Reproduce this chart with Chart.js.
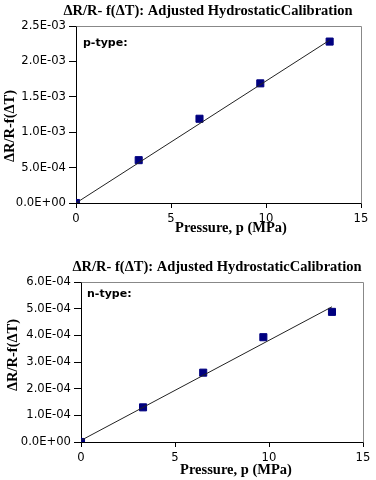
<!DOCTYPE html>
<html>
<head>
<meta charset="utf-8">
<script src="https://cdn.jsdelivr.net/npm/chart.js@4/dist/chart.umd.min.js"></script>
<style>
  html, body { margin: 0; padding: 0; background: #fff; }
  .box { position: absolute; left: 0; width: 376px; height: 240px; }
</style>
</head>
<body>
<div class="box" style="top:0"><canvas id="p-chart" width="376" height="240"></canvas></div>
<div class="box" style="top:240px"><canvas id="n-chart" width="376" height="240"></canvas></div>
<script>
// measured points: pressure (MPa) vs dR/R - f(dT)
const pressure = [0, 3.3, 6.5, 9.7, 13.35];
const pType = [0, 6.05e-4, 1.19e-3, 1.69e-3, 2.28e-3];
const nType = [0, 1.3e-4, 2.6e-4, 3.93e-4, 4.88e-4];

// trendline ends
const fitX = [0, 13.35];
const pFit = [0, 2.3e-3];
const nFit = [0.06e-4, 5.07e-4];

const xTicks = [0, 5, 10, 15];
const pYTicks = [0, 5e-4, 1e-3, 1.5e-3, 2e-3, 2.5e-3];
const nYTicks = [0, 1e-4, 2e-4, 3e-4, 4e-4, 5e-4, 6e-4];

const titleText = "ΔR/R- f(ΔT): Adjusted HydrostaticCalibration";
const xTitle = "Pressure, p (MPa)";
const yTitle = "ΔR/R-f(ΔT)";

const tickFont = { family: "DejaVu Sans", size: 11.6 };
const serif = "bold 14.5px 'Liberation Serif'";

function sci(v) {
    const [m, e] = v.toExponential(1).split("e");
    const n = parseInt(e, 10);
    return m + "E" + (n < 0 ? "-" : "+") + String(Math.abs(n)).padStart(2, "0");
}

function pts(xs, ys) {
    return xs.map((x, i) => ({ x: x, y: ys[i] }));
}

// frame + free text labels
const extras = {
    id: "extras",
    afterDraw(chart, args, opts) {
        const { ctx, chartArea: a } = chart;
        ctx.save();
        ctx.strokeStyle = "#888";
        ctx.lineWidth = 1;
        ctx.beginPath();
        ctx.moveTo(Math.round(a.left) + 0.5, Math.round(a.top) + 0.5);
        ctx.lineTo(Math.round(a.right) + 0.5, Math.round(a.top) + 0.5);
        ctx.lineTo(Math.round(a.right) + 0.5, Math.round(a.bottom) + 0.5);
        ctx.stroke();
        ctx.fillStyle = "#000";
        ctx.textBaseline = "middle";
        (opts.texts || []).forEach(t => {
            ctx.save();
            ctx.font = t.font;
            ctx.textAlign = t.align || "center";
            ctx.translate(t.x, t.y);
            if (t.rotate) ctx.rotate(t.rotate);
            ctx.fillText(t.text, 0, 0);
            ctx.restore();
        });
        ctx.restore();
    }
};

function makeChart(id, ys, fitY, yTicks, label, g) {
    return new Chart(document.getElementById(id).getContext("2d"), {
        type: "scatter",
        data: {
            datasets: [
                {
                    type: "line",
                    data: pts(fitX, fitY),
                    borderColor: "#222",
                    borderWidth: 1,
                    pointRadius: 0,
                    fill: false,
                },
                {
                    data: pts(pressure, ys),
                    pointStyle: "rect",
                    pointRadius: 5,
                    backgroundColor: "#000080",
                    borderColor: "#000080",
                    borderWidth: 1,
                },
            ],
        },
        options: {
            responsive: false,
            animation: false,
            events: [],
            layout: { padding: { left: 0, top: g.top, right: g.right, bottom: 0 } },
            scales: {
                x: {
                    type: "linear",
                    min: 0,
                    max: 15,
                    afterBuildTicks: s => { s.ticks = xTicks.map(v => ({ value: v })); },
                    afterFit: s => { s.height = g.xh; },
                    ticks: { color: "#000", font: tickFont, padding: 4, maxRotation: 0 },
                    grid: { drawOnChartArea: false, tickLength: 5, color: "#000" },
                    border: { color: "#000" },
                },
                y: {
                    type: "linear",
                    min: 0,
                    max: yTicks[yTicks.length - 1],
                    afterBuildTicks: s => { s.ticks = yTicks.map(v => ({ value: v })); },
                    afterFit: s => { s.width = g.yw; },
                    ticks: { color: "#000", font: tickFont, padding: 3, callback: v => sci(v) },
                    grid: { drawOnChartArea: false, tickLength: 7, color: "#000" },
                    border: { color: "#000" },
                },
            },
            plugins: {
                legend: { display: false },
                tooltip: { enabled: false },
                extras: {
                    texts: [
                        { text: titleText, x: g.tx, y: g.ty, font: serif },
                        { text: xTitle, x: g.xtx, y: g.xty, font: serif },
                        { text: yTitle, x: g.ytx, y: g.yty, font: serif, rotate: -Math.PI / 2 },
                        { text: label, x: g.lx, y: g.ly, font: "bold 11px 'DejaVu Sans'", align: "left" },
                    ],
                },
            },
        },
        plugins: [extras],
    });
}

makeChart("p-chart", pType, pFit, pYTicks, "p-type:", {
    top: 26, right: 15, xh: 37, yw: 76,
    tx: 208, ty: 11, xtx: 231, xty: 228, ytx: 10, yty: 126, lx: 83, ly: 43.5,
});

makeChart("n-chart", nType, nFit, nYTicks, "n-type:", {
    top: 42, right: 13, xh: 38, yw: 81,
    tx: 217, ty: 27, xtx: 236, xty: 230, ytx: 13, yty: 115, lx: 87, ly: 54,
});
</script>
</body>
</html>
